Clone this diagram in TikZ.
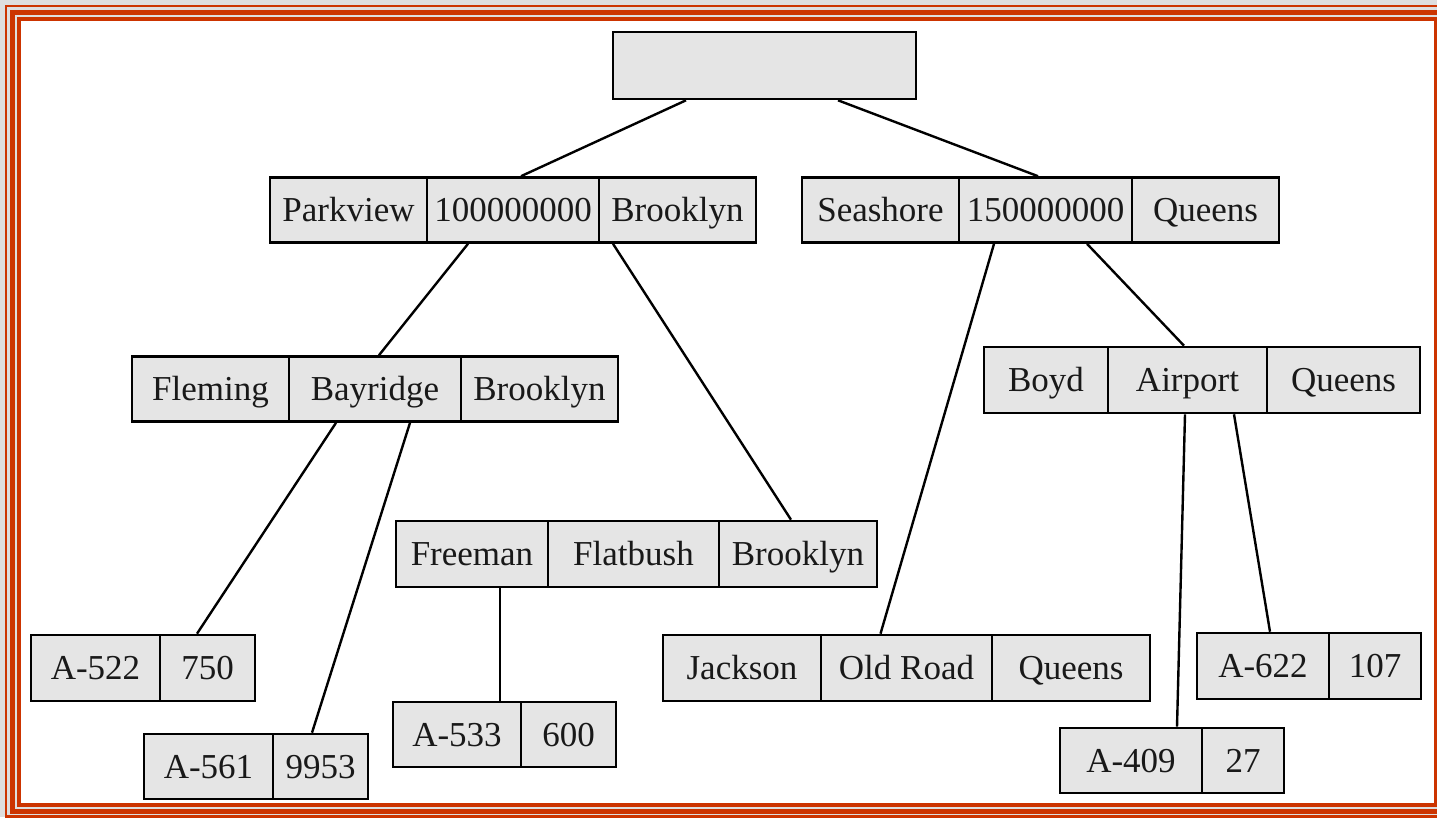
\documentclass[tikz,border=0pt]{standalone}
\usepackage{fontspec}
\setmainfont{Liberation Serif}
\usetikzlibrary{calc}
\definecolor{frame}{RGB}{204,52,0}
\definecolor{cellfill}{RGB}{229,229,229}
\definecolor{outbg}{RGB}{222,222,222}
\tikzset{
  cell/.style={draw=black, fill=cellfill, line width=2.6pt, inner sep=0pt,
    minimum height=65pt, text height=30pt, text depth=7pt,
    font=\fontsize{35}{38}\selectfont, text=black!90},
  link/.style={line width=2.4pt, black},
}
\begin{document}
\begin{tikzpicture}[x=1pt,y=-1pt]
\useasboundingbox (0,0) rectangle (1437,817);
\begin{scope}
\clip (0,0) rectangle (1437,817);
\fill[outbg] (0,0) rectangle (1437,817);
\fill[white] (19,19) rectangle (1435.5,804.5);
\draw[frame, line width=2.2pt] (6,6) rectangle (1460,816.5);
\draw[frame, line width=5pt] (12.5,12.5) rectangle (1450,811.5);
\draw[frame, line width=4pt] (19,19) rectangle (1435.5,804.5);
\end{scope}

% root
\node[cell, minimum width=303pt, minimum height=67pt] (root) at (764.5,65.5) {};

% level 1
\node[cell, minimum width=157pt] (pv) at (348.5,210) {Parkview};
\node[cell, minimum width=172pt] (pvn) at (513,210) {100000000};
\node[cell, minimum width=157pt] (pvb) at (677.5,210) {Brooklyn};

\node[cell, minimum width=157pt] (ss) at (880.5,210) {Seashore};
\node[cell, minimum width=173pt] (ssn) at (1045.5,210) {150000000};
\node[cell, minimum width=147pt] (ssq) at (1205.5,210) {Queens};

% level 2
\node[cell, minimum width=157pt] (fl) at (210.5,389) {Fleming};
\node[cell, minimum width=172pt] (flb) at (375,389) {Bayridge};
\node[cell, minimum width=157pt] (flk) at (539.5,389) {Brooklyn};

\node[cell, minimum width=124pt, minimum height=66pt] (bo) at (1046,380) {Boyd};
\node[cell, minimum width=159pt, minimum height=66pt] (boa) at (1187.5,380) {Airport};
\node[cell, minimum width=153pt, minimum height=66pt] (boq) at (1343.5,380) {Queens};

\node[cell, minimum width=152pt, minimum height=66pt] (fr) at (472,554) {Freeman};
\node[cell, minimum width=171pt, minimum height=66pt] (frf) at (633.5,554) {Flatbush};
\node[cell, minimum width=158pt, minimum height=66pt] (frb) at (798,554) {Brooklyn};

\node[cell, minimum width=158pt, minimum height=66pt] (ja) at (742,668) {Jackson};
\node[cell, minimum width=171pt, minimum height=66pt] (jao) at (906.5,668) {Old Road};
\node[cell, minimum width=158pt, minimum height=66pt] (jaq) at (1071,668) {Queens};

% leaves
\node[cell, minimum width=129pt, minimum height=66pt] (a522) at (95.5,668) {A-522};
\node[cell, minimum width=95pt, minimum height=66pt] (v522) at (207.5,668) {750};

\node[cell, minimum width=129pt, minimum height=65pt] (a561) at (208.5,766.5) {A-561};
\node[cell, minimum width=95pt, minimum height=65pt] (v561) at (320.5,766.5) {9953};

\node[cell, minimum width=128pt, minimum height=65pt] (a533) at (457,734.5) {A-533};
\node[cell, minimum width=95pt, minimum height=65pt] (v533) at (568.5,734.5) {600};

\node[cell, minimum width=132pt, minimum height=66pt] (a622) at (1263,666) {A-622};
\node[cell, minimum width=92pt, minimum height=66pt] (v622) at (1375,666) {107};

\node[cell, minimum width=142pt, minimum height=65pt] (a409) at (1131,760.5) {A-409};
\node[cell, minimum width=82pt, minimum height=65pt] (v409) at (1243,760.5) {27};

% connectors
\draw[link] ([xshift=-78.5pt]root.south) -- ([xshift=8pt]pvn.north);
\draw[link] ([xshift=73.5pt]root.south) -- ([xshift=-7.5pt]ssn.north);
\draw[link] ([xshift=-45pt]pvn.south) -- ([xshift=4pt]flb.north);
\draw[link] ([xshift=-64.5pt]pvb.south) -- ([xshift=-7pt]frb.north);
\draw[link] ([xshift=-51.5pt]ssn.south) -- ([xshift=-26pt]jao.north);
\draw[link] ([xshift=41.5pt]ssn.south) -- ([xshift=-3.5pt]boa.north);
\draw[link] ([xshift=-39pt]flb.south) -- ([xshift=-10.5pt]v522.north);
\draw[link] ([xshift=35pt]flb.south) -- ([xshift=-8.5pt]v561.north);
\draw[link] ([xshift=28pt]fr.south) -- ([xshift=43pt]a533.north);
\draw[link] ([xshift=-2.5pt]boa.south) -- ([xshift=46pt]a409.north);
\draw[link] ([xshift=46.5pt]boa.south) -- ([xshift=7pt]a622.north);
\end{tikzpicture}
\end{document}
